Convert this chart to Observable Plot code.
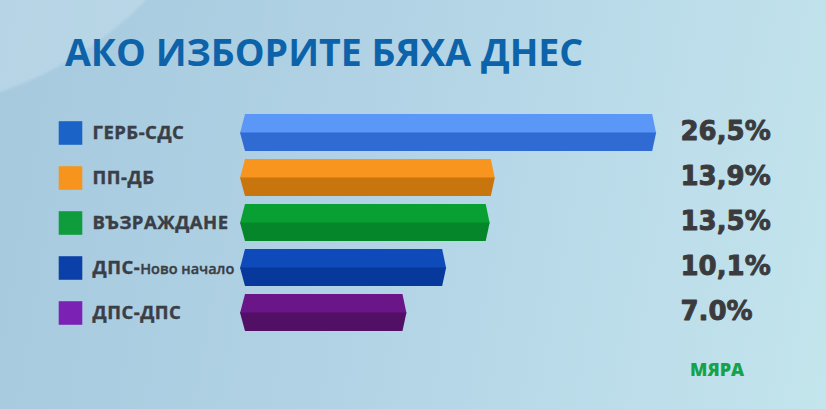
<!DOCTYPE html>
<html>
<head>
<meta charset="utf-8">
<script src="https://cdn.jsdelivr.net/npm/d3@7"></script>
<script src="https://cdn.jsdelivr.net/npm/@observablehq/plot@0.6"></script>
<style>
  html, body { margin: 0; padding: 0; }
  body { width: 826px; height: 409px; overflow: hidden; }
  #wrap {
    position: relative; width: 826px; height: 409px; overflow: hidden;
    background:
      radial-gradient(circle at -120px -260px, rgba(210,232,241,0.35) 0, rgba(210,232,241,0.35) 370px, rgba(210,232,241,0) 374px),
      linear-gradient(100deg, #a6c9de 0%, #b2d3e5 45%, #bddeea 80%, #c3e5ec 100%);
  }
  #title {
    position: absolute; left: 65px; top: 26px;
    font-family: "Open Sans", sans-serif; font-weight: 700; font-size: 37.5px;
    color: #0d63a9; white-space: nowrap;
  }
  #logo {
    position: absolute; left: 690px; top: 357px;
    font-family: "Open Sans", sans-serif; font-weight: 800; font-size: 18px;
    color: #14a24b; white-space: nowrap;
  }
  #chart { position: absolute; left: 0; top: 0; }
</style>
</head>
<body>
<div id="wrap">
  <div id="title">АКО ИЗБОРИТЕ БЯХА ДНЕС</div>
  <div id="chart"></div>
  <div id="logo">МЯРА</div>
</div>
<script>
// ---- data ----
const parties = ["ГЕРБ-СДС", "ПП-ДБ", "ВЪЗРАЖДАНЕ", "ДПС-Ново начало", "ДПС-ДПС"];
const values = [26.5, 13.9, 13.5, 10.1, 7.0];
const valueLabels = ["26,5%", "13,9%", "13,5%", "10,1%", "7.0%"];
const swatchColors = ["#1b63c6", "#f7941d", "#0e9c3c", "#0b40a9", "#7b22b4"];
const topColors = ["#5b97f6", "#f7951e", "#08a033", "#0f4abb", "#6a1588"];
const bottomColors = ["#2f6bd3", "#c8750e", "#06862b", "#07389b", "#511066"];
const baseline = -6; // where the graphic's bars begin on the value axis

const data = parties.map((p, i) => ({
  party: p, value: values[i], label: valueLabels[i],
  swatch: swatchColors[i], top: topColors[i], bottom: bottomColors[i]
}));

const half = 18.6;
const chart = Plot.plot({
  width: 826, height: 409,
  marginLeft: 240, marginRight: 166, marginTop: 113, marginBottom: 78,
  style: { background: "transparent" },
  x: { domain: [baseline, 26.8], axis: null },
  y: { domain: parties, axis: null, paddingInner: 0.178, paddingOuter: 0 },
  color: { type: "identity" },
  marks: [
    Plot.barX(data, { x1: baseline, x2: "value", y: "party", fill: "top", insetBottom: half - 0.8 }),
    Plot.barX(data, { x1: baseline, x2: "value", y: "party", fill: "bottom", insetTop: half }),
    Plot.dot(data, { y: "party", frameAnchor: "left", dx: -170, symbol: "square", r: 13.3, fill: "swatch" }),
    Plot.text(data, { y: "party", text: "party", frameAnchor: "left", dx: -148, textAnchor: "start",
      fontSize: 18.5, fontWeight: 700, fill: "#3a3e46", stroke: "#3a3e46", strokeWidth: 0.4,
      fontFamily: "Open Sans" }),
    Plot.text(data, { y: "party", text: "label", frameAnchor: "right", dx: 20, dy: -1, textAnchor: "start",
      fontSize: 26, fontWeight: 700, fill: "#3b3b3e", stroke: "#3b3b3e", strokeWidth: 0.9,
      fontFamily: "DejaVu Sans" })
  ]
});
document.getElementById("chart").appendChild(chart);

const svg = d3.select(chart);
const groups = svg.selectAll("g").filter(function () { return this.querySelector(":scope > rect") && this.getAttribute("aria-label") === "bar"; }).nodes();

// bevel the ends of the bar halves (from the rects Plot drew)
function bevel(g, isTop) {
  d3.select(g).selectAll(":scope > rect").each(function () {
    const x = +this.getAttribute("x"), y = +this.getAttribute("y");
    const w = +this.getAttribute("width"), h = +this.getAttribute("height");
    const c1 = 5, c2 = 4;
    const pts = isTop
      ? [[x + c1, y], [x + w - c2, y], [x + w, y + h], [x, y + h]]
      : [[x, y], [x + w, y], [x + w - c2, y + h], [x + c1, y + h]];
    d3.select(g).insert("path", () => this)
      .attr("d", "M" + pts.map(p => p.join(",")).join("L") + "Z")
      .attr("fill", this.getAttribute("fill"));
    this.remove();
  });
}
if (groups.length >= 2) { bevel(groups[0], true); bevel(groups[1], false); }

// party names: wider tracking; smaller second part of "ДПС-Ново начало"
svg.selectAll("text").each(function () {
  const t = this.textContent;
  if (parties.includes(t)) d3.select(this).attr("letter-spacing", 0.5);
  if (t === "ДПС-Ново начало") {
    const el = d3.select(this);
    el.text(null);
    el.append("tspan").text("ДПС-");
    el.append("tspan").attr("font-size", 14.5).attr("font-weight", 600).attr("letter-spacing", 0).text("Ново начало");
  }
});
</script>
</body>
</html>
